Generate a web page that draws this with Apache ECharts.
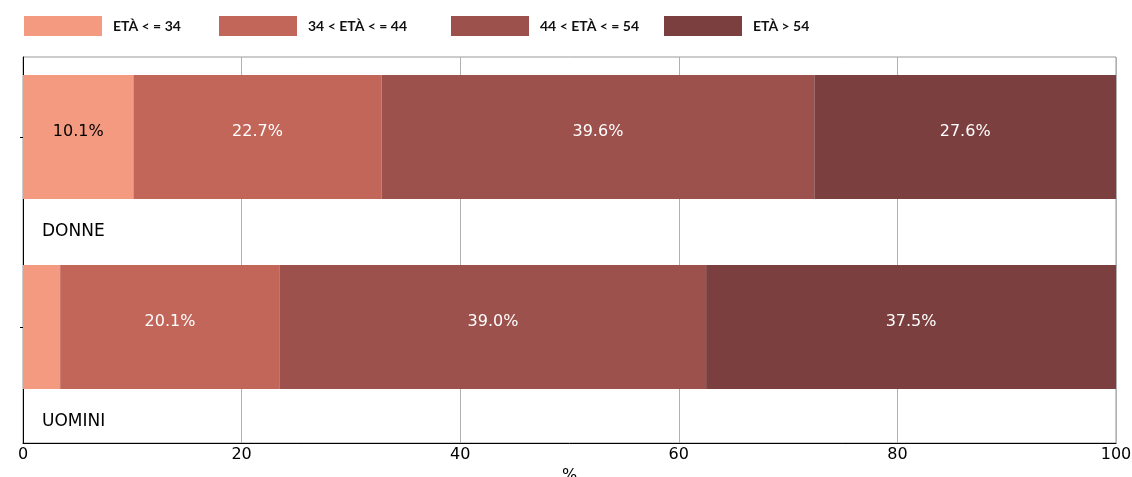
<!DOCTYPE html>
<html>
<head>
<meta charset="utf-8">
<script src="https://cdn.jsdelivr.net/npm/echarts@6/dist/echarts.min.js"></script>
<style>html,body{margin:0;padding:0;background:#fff}#c{width:1132px;height:477px}</style>
</head>
<body>
<div id="c"></div>
<script>
const categories = ['DONNE', 'UOMINI'];
const seriesNames = ['ETÀ < = 34', '34 < ETÀ < = 44', '44 < ETÀ < = 54', 'ETÀ > 54'];
const age34 = [10.1, 3.4];
const age44 = [22.7, 20.1];
const age54 = [39.6, 39.0];
const ageOver54 = [27.6, 37.5];
const xTicks = [0, 20, 40, 60, 80, 100];

const values = [age34, age44, age54, ageOver54];
const colors = ['#F39A80', '#C2665A', '#9C514C', '#7B3F3F'];
const labelColors = ['#000', '#fff', '#fff', '#fff'];
const legendLeft = [24, 219, 451, 664];
const FONT = 'DejaVu Sans';

const chart = echarts.init(document.getElementById('c'), null, {renderer: 'canvas'});

const series = values.map((vals, i) => ({
  name: seriesNames[i],
  type: 'bar',
  stack: 'total',
  xAxisIndex: 1,
  yAxisIndex: 1,
  barWidth: 124,
  itemStyle: {color: colors[i]},
  label: {
    show: true,
    position: 'inside',
    color: labelColors[i],
    fontFamily: FONT,
    fontSize: 16,
    offset: [0, -5],
    formatter: p => p.value >= 5 ? p.value.toFixed(1) + '%' : ''
  },
  emphasis: {disabled: true},
  data: vals
}));

const legends = seriesNames.map((n, i) => ({
  data: [n],
  left: legendLeft[i],
  top: 16,
  padding: 0,
  itemWidth: 78,
  itemHeight: 20,
  icon: 'rect',
  selectedMode: false,
  textStyle: {
    fontFamily: 'Lato',
    fontWeight: 'bold',
    fontSize: 14,
    color: '#111',
    padding: [0, 0, 0, 6]
  }
}));

chart.setOption({
  animation: false,
  legend: legends,
  grid: [
    {left: 23, right: 16, top: 57, bottom: 34, show: true, borderColor: '#999', borderWidth: 1, outerBoundsMode: 'none', containLabel: false},
    {left: 23, right: 16, top: 42, height: 380, outerBoundsMode: 'none', containLabel: false},
    {left: 23, right: 16, top: 137, height: 380, outerBoundsMode: 'none', containLabel: false}
  ],
  xAxis: [
    {
      gridIndex: 0, type: 'value', min: xTicks[0], max: xTicks[xTicks.length - 1], interval: 20,
      axisLine: {show: true, lineStyle: {color: '#000', width: 1}},
      axisTick: {show: false},
      axisLabel: {color: '#000', fontFamily: FONT, fontSize: 16, margin: 4},
      splitLine: {show: true, lineStyle: {color: '#b0b0b0', width: 1}},
      name: '%', nameLocation: 'middle', nameGap: 21,
      nameTextStyle: {color: '#000', fontFamily: FONT, fontSize: 16}
    },
    {gridIndex: 1, type: 'value', min: 0, max: 100, show: false},
    {gridIndex: 2, type: 'value', min: 0, max: 100, show: false}
  ],
  yAxis: [
    {
      gridIndex: 0, type: 'value', min: 0, max: 1,
      axisLine: {show: true, lineStyle: {color: '#000', width: 1}},
      axisTick: {show: false}, axisLabel: {show: false}, splitLine: {show: false}
    },
    {
      gridIndex: 1, type: 'category', data: categories, inverse: true,
      axisLine: {show: false},
      axisTick: {show: true, alignWithLabel: true, length: 3, lineStyle: {color: '#000'}},
      axisLabel: {show: false}, splitLine: {show: false}
    },
    {
      gridIndex: 2, type: 'category', data: categories, inverse: true,
      axisLine: {show: false}, axisTick: {show: false},
      axisLabel: {show: true, inside: true, margin: 19, color: '#000', fontFamily: FONT, fontSize: 17},
      splitLine: {show: false}
    }
  ],
  series: series
});
</script>
</body>
</html>
